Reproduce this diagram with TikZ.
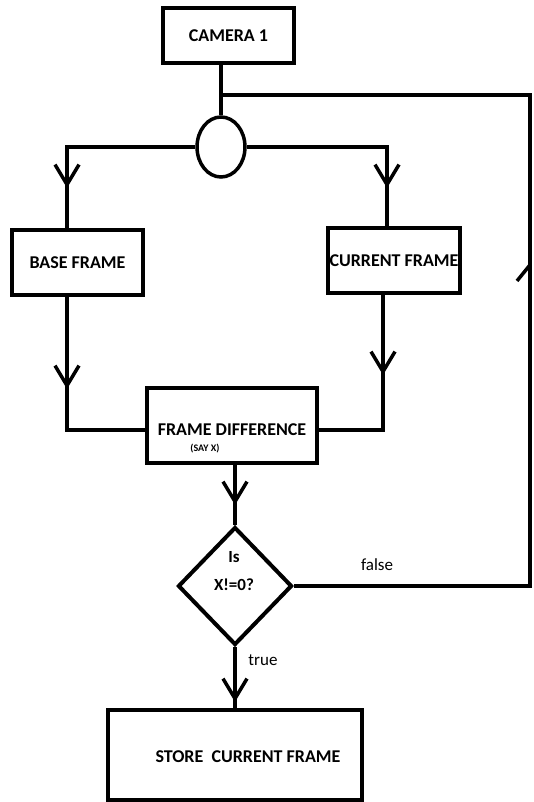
\documentclass[tikz,border=0pt]{standalone}
\usepackage{fontspec}
\setmainfont{Carlito}
\usetikzlibrary{positioning,shapes.geometric,arrows.meta,decorations.markings}

\tikzset{
  box/.style={draw,line width=4pt,inner sep=0pt,font=\fontsize{18}{22}\selectfont\bfseries},
  flow/.style={line width=3.5pt},
  barbat/.style={postaction={decorate},decoration={markings,
      mark=at position #1 with {\arrow{Straight Barb[length=20pt,width=24pt]}}}},
  halfbarbat/.style={postaction={decorate},decoration={markings,
      mark=at position #1 with {\arrow{Straight Barb[length=16pt,width=26pt,harpoon]}}}},
  lbl/.style={font=\fontsize{17}{20}\selectfont},
}

\begin{document}
\begin{tikzpicture}[x=1pt,y=-1pt]
        \useasboundingbox (0,0) rectangle (534,802);
        \node[box,minimum width=131pt,minimum height=55pt] (cam) at (228.5,35.5) {CAMERA 1};
        \node[draw,ellipse,line width=3.5pt,minimum width=48pt,minimum height=60pt] (split) at (221,147) {};
        \node[box,minimum width=131pt,minimum height=65pt] (base) at (77.5,262.5) {BASE FRAME};
        \node[box,minimum width=132pt,minimum height=65pt] (curr) at (394,260.5) {CURRENT FRAME};
        \node[box,minimum width=170pt,minimum height=75pt] (diff) at (232,425.5) {};
        \node[font=\fontsize{18}{22}\selectfont\bfseries] (difftext) at (232,430) {FRAME DIFFERENCE};
        \node[font=\fontsize{10}{12}\selectfont\bfseries] (sayx) at (205,449) {(SAY X)};
        \node[draw,diamond,line width=4pt,minimum width=114pt,minimum height=118pt,inner sep=0pt] (dec) at (235,586) {};
        \node[align=center,font=\fontsize{17}{28}\selectfont\bfseries] (dectext) at (234,571) {Is\\X!=0?};
        \node[box,minimum width=254pt,minimum height=90pt] (store) at (235,755) {};
        \node[font=\fontsize{18}{22}\selectfont\bfseries] (storetext) at (248,757) {STORE\ \ CURRENT FRAME};
        \coordinate (j) at (221,95);
        \coordinate (fbt) at (530,95);

        \draw[flow] (cam.south -| split) -- (split.north);
        \draw[flow,barbat=-40pt] (split.west) -| ([xshift=-10.5pt]base.north);
        \draw[flow,barbat=-38pt] (split.east) -| ([xshift=-7pt]curr.north);
        \draw[flow,barbat=92pt] ([xshift=-10.5pt]base.south) |- ([yshift=-4.5pt]diff.west);
        \draw[flow,barbat=80pt] ([xshift=-11pt]curr.south) |- ([yshift=-4.5pt]diff.east);
        \draw[flow,barbat=40pt] (diff.south -| dec) -- (dec.north);
        \draw[flow,barbat=55pt] (dec.south) -- (store.north);
        \draw[flow,halfbarbat=562pt] (dec.east) -| (fbt) -- (j);
        \node[lbl] (falselbl) at (377,565) {false};
        \node[lbl] (truelbl) at (263,660) {true};
    \end{tikzpicture}
\end{document}
